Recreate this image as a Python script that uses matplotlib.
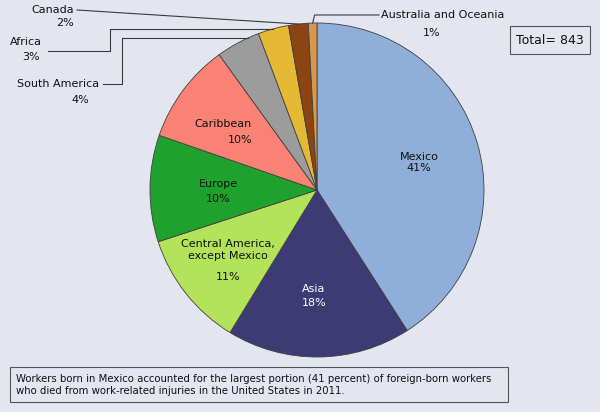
import numpy as np
import matplotlib.pyplot as plt
from matplotlib.patches import Rectangle

# foreign-born fatal work injuries by region of birth, 2011
regions = ["Mexico", "Asia", "Central America,\nexcept Mexico", "Europe",
           "Caribbean", "South America", "Africa", "Canada",
           "Australia and Oceania"]
deaths = [345, 150, 95, 87, 82, 36, 25, 16, 7]
colors = ["#8FAFDA", "#3D3B73", "#B2E35A", "#1FA22D", "#F98274",
          "#9C9C9C", "#E6B935", "#8C4412", "#D89A4A"]
text_colors = ["#111111", "white"] + ["#111111"] * 7
note = ("Workers born in Mexico accounted for the largest portion (41 percent) of foreign-born workers\n"
        "who died from work-related injuries in the United States in 2011.")

total = sum(deaths)
pcts = [f"{round(100 * d / total)}%" for d in deaths]

BG = "#E3E5EF"
FONT = "DejaVu Sans"

# label positions in pixels (name xy, pct xy)
name_pos = [(419, 157), (314, 289), (228, 250), (218, 184), (223, 124),
            (58, 84), (26, 42), (53, 10), (381, 15)]
pct_pos = [(419, 168), (314, 303), (228, 277), (218, 199), (240, 140),
           (80, 100), (31, 57), (65, 23), (432, 33)]


def main():
    fig = plt.figure(figsize=(6, 4.12), dpi=100, facecolor=BG)
    ax = fig.add_axes([0, 0, 1, 1])
    ax.axis("off")

    # y is flipped, so counterclock in data space draws clockwise on screen
    wedges, _ = ax.pie(deaths, colors=colors, center=(317, 190), radius=167,
                       startangle=-90, counterclock=True,
                       wedgeprops=dict(edgecolor="#404040", linewidth=0.6))
    ax.set_xlim(0, 600)
    ax.set_ylim(412, 0)
    ax.set_aspect("equal")

    for i, r in enumerate(regions):
        ha = "left" if i == len(regions) - 1 else "center"
        ax.text(*name_pos[i], r, ha=ha, va="center", fontsize=8, family=FONT,
                color=text_colors[i], linespacing=1.35)
        ax.text(*pct_pos[i], pcts[i], ha="center", va="center", fontsize=8,
                family=FONT, color=text_colors[i])

    def edge_point(i, frac=0.5):
        w = wedges[i]
        th = np.deg2rad(w.theta1 + frac * (w.theta2 - w.theta1))
        return w.center[0] + w.r * np.cos(th), w.center[1] + w.r * np.sin(th)

    lc = dict(color="#3a3a3a", lw=0.8)
    # South America
    x, y = edge_point(5, 0.75)
    ax.plot([103, 122, 122, x], [84, 84, y, y], **lc)
    # Africa
    x, y = edge_point(6)
    ax.plot([48, 110, 110, x], [51, 51, y, y], **lc)
    # Canada
    x, y = edge_point(7)
    ax.plot([77, x], [10, y], **lc)
    # Australia and Oceania
    x, y = edge_point(8)
    ax.plot([x, x + 2, 379], [y, 15, 15], **lc)

    ax.add_patch(Rectangle((510, 26), 80, 28, fill=False, edgecolor="#555555", lw=0.8))
    ax.text(550, 40, f"Total= {total}", ha="center", va="center", fontsize=9,
            family=FONT, color="#111111")

    ax.add_patch(Rectangle((10, 367), 498, 35, fill=False, edgecolor="#555555", lw=0.8))
    ax.text(16, 385, note, ha="left", va="center", fontsize=7.3, family=FONT,
            color="#111111", linespacing=1.3)

    fig.savefig("out.png", dpi=100, facecolor=BG)
    plt.close(fig)


if __name__ == '__main__':
    main()
